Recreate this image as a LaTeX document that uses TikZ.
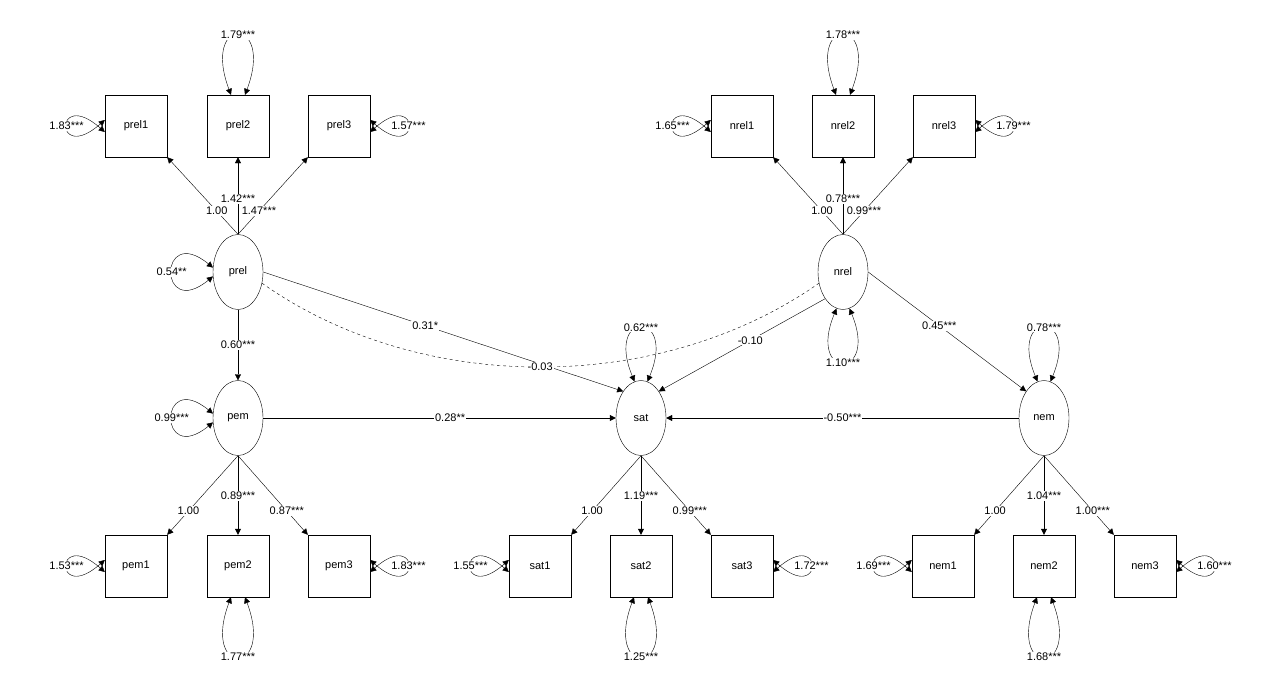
\documentclass[tikz,border=0pt]{standalone}
\usepackage{fontspec}
\setmainfont{Liberation Sans}
\usetikzlibrary{arrows.meta,shapes.geometric}
\begin{document}
\begin{tikzpicture}[x=1pt,y=-1pt,
  every node/.style={font=\fontsize{11}{13}\selectfont},
  obs/.style={draw,minimum width=62pt,minimum height=62pt,inner sep=0pt},
  lat/.style={draw,ellipse,minimum width=50pt,minimum height=75pt,inner sep=0pt},
  arr/.style={-{Triangle[length=6pt,width=6pt]}},
  dbl/.style={{Triangle[length=6pt,width=6pt]}-{Triangle[length=6pt,width=6pt]}},
  lab/.style={fill=white,inner sep=1pt}]
\useasboundingbox (0,0) rectangle (1280,694);
% observed
\foreach \n/\x/\y in {prel1/136/126,prel2/238/126,prel3/339/126,
  nrel1/742/126,nrel2/843/126,nrel3/944/126,
  pem1/136/566,pem2/238/566,pem3/339/566,
  sat1/540/566,sat2/641/566,sat3/742/566,
  nem1/943/566,nem2/1044/566,nem3/1145/566}
  \node[obs] (\n) at (\x,\y) {\n};
\foreach \n/\x/\y in {prel/238/272,pem/238/418,sat/641/418,nrel/843/272,nem/1044/418}
  \node[lat] (\n) at (\x,\y) {\n};
% loadings
\newcommand\ldup[4]{%
  \draw[arr] (#1.north) -- node[lab,pos=0.3]{#3} (#1-1.south east);
  \draw[arr] (#1.north) -- node[lab,pos=0.46]{#4} (#1-2.south);
  \draw[arr] (#1.north) -- node[lab,pos=0.3]{#2} (#1-3.south west);}
\draw[arr] (prel.north) -- node[lab,pos=0.3]{1.00} (prel1.south east);
\draw[arr] (prel.north) -- node[lab,pos=0.46]{1.42***} (prel2.south);
\draw[arr] (prel.north) -- node[lab,pos=0.3]{1.47***} (prel3.south west);
\draw[arr] (nrel.north) -- node[lab,pos=0.3]{1.00} (nrel1.south east);
\draw[arr] (nrel.north) -- node[lab,pos=0.46]{0.78***} (nrel2.south);
\draw[arr] (nrel.north) -- node[lab,pos=0.3]{0.99***} (nrel3.south west);
\draw[arr] (pem.south) -- node[lab,pos=0.7]{1.00} (pem1.north east);
\draw[arr] (pem.south) -- node[lab,pos=0.51]{0.89***} (pem2.north);
\draw[arr] (pem.south) -- node[lab,pos=0.7]{0.87***} (pem3.north west);
\draw[arr] (sat.south) -- node[lab,pos=0.7]{1.00} (sat1.north east);
\draw[arr] (sat.south) -- node[lab,pos=0.51]{1.19***} (sat2.north);
\draw[arr] (sat.south) -- node[lab,pos=0.7]{0.99***} (sat3.north west);
\draw[arr] (nem.south) -- node[lab,pos=0.7]{1.00} (nem1.north east);
\draw[arr] (nem.south) -- node[lab,pos=0.51]{1.04***} (nem2.north);
\draw[arr] (nem.south) -- node[lab,pos=0.7]{1.00***} (nem3.north west);
% structural
\draw[arr] (prel) -- node[lab]{0.60***} (pem);
\draw[arr] (pem) -- node[lab,pos=0.53]{0.28**} (sat);
\draw[arr] (nem) -- node[lab]{-0.50***} (sat);
\draw[arr] (prel.east) -- node[lab,pos=0.45]{0.31*} (sat.north west);
\draw[arr] (nrel.south west) -- node[lab,pos=0.45]{-0.10} (sat.north east);
\draw[arr] (nrel.east) -- node[lab,pos=0.45]{0.45***} (nem.north west);
\draw[dashed] (prel.-25) .. controls (420,395) and (660,395) .. node[lab,pos=0.5]{-0.03} (nrel.-155);
% residual loops
\newcommand\lpL[2]{\draw[dbl] ([yshift=-6pt]#1.west) .. controls +(-51,-45) and +(-51,45) .. node[lab]{#2} ([yshift=6pt]#1.west);}
\newcommand\lpR[2]{\draw[dbl] ([yshift=-6pt]#1.east) .. controls +(51,-45) and +(51,45) .. node[lab]{#2} ([yshift=6pt]#1.east);}
\newcommand\lpT[2]{\draw[dbl] ([xshift=-7pt]#1.north) .. controls +(-30,-80) and +(30,-80) .. node[lab]{#2} ([xshift=7pt]#1.north);}
\newcommand\lpB[2]{\draw[dbl] ([xshift=-7pt]#1.south) .. controls +(-30,80) and +(30,80) .. node[lab]{#2} ([xshift=7pt]#1.south);}
\lpL{prel1}{1.83***} \lpT{prel2}{1.79***} \lpR{prel3}{1.57***}
\lpL{nrel1}{1.65***} \lpT{nrel2}{1.78***} \lpR{nrel3}{1.79***}
\lpL{pem1}{1.53***} \lpB{pem2}{1.77***} \lpR{pem3}{1.83***}
\lpL{sat1}{1.55***} \lpB{sat2}{1.25***} \lpR{sat3}{1.72***}
\lpL{nem1}{1.69***} \lpB{nem2}{1.68***} \lpR{nem3}{1.60***}
\draw[dbl] (prel.170) .. controls +(-55,-45) and +(-55,45) .. node[lab]{0.54**} (prel.190);
\draw[dbl] (pem.170) .. controls +(-55,-45) and +(-55,45) .. node[lab]{0.99***} (pem.190);
\draw[dbl] (sat.100) .. controls +(-30,-72) and +(30,-72) .. node[lab]{0.62***} (sat.80);
\draw[dbl] (nem.100) .. controls +(-30,-72) and +(30,-72) .. node[lab]{0.78***} (nem.80);
\draw[dbl] (nrel.260) .. controls +(-30,72) and +(30,72) .. node[lab]{1.10***} (nrel.280);
\end{tikzpicture}
\end{document}
